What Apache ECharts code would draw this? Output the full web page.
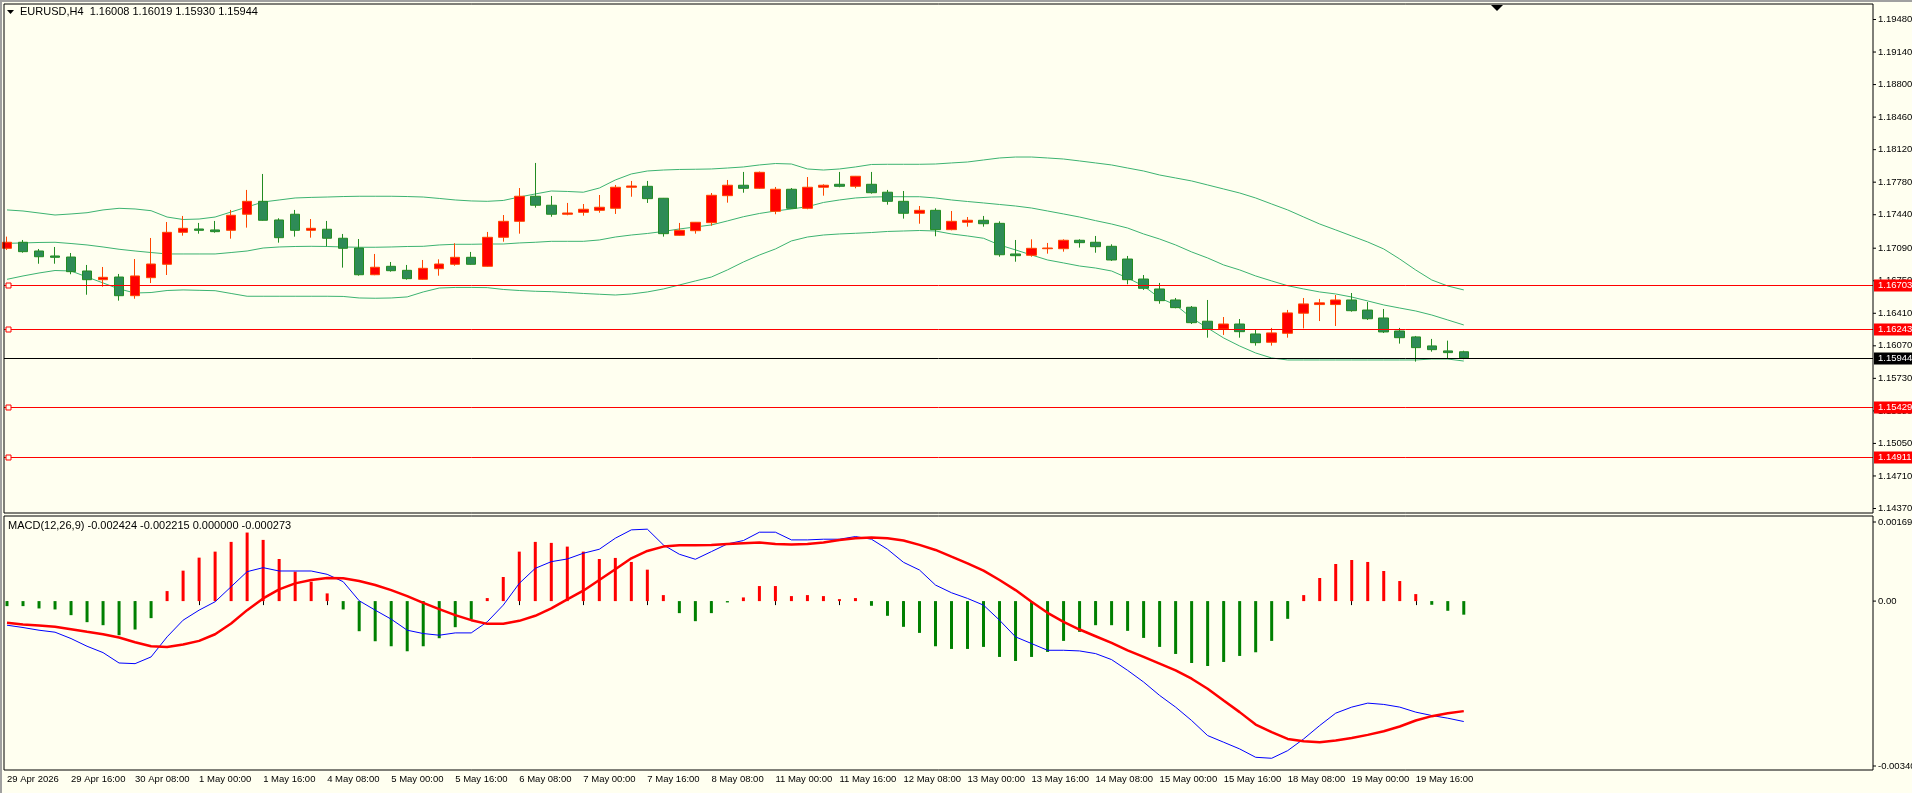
<!DOCTYPE html>
<html><head><meta charset="utf-8">
<script src="https://cdn.jsdelivr.net/npm/echarts@6/dist/echarts.min.js"></script>
<style>html,body{margin:0;padding:0;background:#FFFFF0;}#c{width:1912px;height:793px;}</style>
</head><body><div id="c"></div>
<script>
const tickLabels = ['29 Apr 2026','29 Apr 16:00','30 Apr 08:00','1 May 00:00','1 May 16:00','4 May 08:00','5 May 00:00','5 May 16:00','6 May 08:00','7 May 00:00','7 May 16:00','8 May 08:00','11 May 00:00','11 May 16:00','12 May 08:00','13 May 00:00','13 May 16:00','14 May 08:00','15 May 00:00','15 May 16:00','18 May 08:00','19 May 00:00','19 May 16:00'];
const open = [1.17089,1.17152,1.17061,1.17009,1.16998,1.16852,1.16761,1.16789,1.16594,1.16782,
1.16922,1.17256,1.17291,1.17281,1.17277,1.17445,1.17580,1.17385,1.17445,1.17277,
1.17288,1.17194,1.17092,1.16813,1.16901,1.16859,1.16765,1.16876,1.16922,1.16995,
1.16901,1.17204,1.17371,1.17633,1.17539,1.17445,1.17465,1.17486,1.17507,1.17727,
1.17737,1.17612,1.17225,1.17273,1.17357,1.17639,1.17748,1.17716,1.17476,1.17706,
1.17507,1.17727,1.17758,1.17737,1.17758,1.17675,1.17580,1.17455,1.17486,1.17284,
1.17361,1.17382,1.17350,1.17030,1.17016,1.17085,1.17085,1.17173,1.17152,1.17110,
1.16977,1.16768,1.16664,1.16549,1.16473,1.16327,1.16246,1.16298,1.16194,1.16107,
1.16201,1.16411,1.16501,1.16501,1.16549,1.16444,1.16361,1.16225,1.16163,1.16069,
1.16017,1.16008];
const close = [1.17152,1.17054,1.17001,1.16995,1.16845,1.16761,1.16786,1.16594,1.16800,1.16925,
1.17256,1.17298,1.17277,1.17263,1.17434,1.17580,1.17382,1.17200,1.17277,1.17298,
1.17194,1.17089,1.16813,1.16891,1.16855,1.16772,1.16880,1.16925,1.16995,1.16922,
1.17204,1.17371,1.17633,1.17539,1.17445,1.17458,1.17497,1.17518,1.17727,1.17740,
1.17608,1.17242,1.17277,1.17361,1.17643,1.17748,1.17716,1.17883,1.17706,1.17507,
1.17727,1.17748,1.17737,1.17842,1.17670,1.17580,1.17455,1.17486,1.17284,1.17371,
1.17382,1.17346,1.17022,1.17012,1.17089,1.17092,1.17173,1.17148,1.17106,1.16967,
1.16761,1.16671,1.16542,1.16469,1.16312,1.16246,1.16298,1.16218,1.16103,1.16205,
1.16414,1.16508,1.16519,1.16549,1.16437,1.16353,1.16215,1.16155,1.16051,1.16030,
1.15999,1.15944];
const high = [1.17211,1.17176,1.17082,1.17103,1.17040,1.16915,1.16894,1.16821,1.16977,1.17197,
1.17364,1.17427,1.17354,1.17375,1.17490,1.17699,1.17866,1.17403,1.17490,1.17395,
1.17375,1.17239,1.17186,1.17030,1.16946,1.16915,1.16967,1.16974,1.17142,1.17051,
1.17260,1.17437,1.17719,1.17981,1.17636,1.17563,1.17552,1.17646,1.17751,1.17793,
1.17793,1.17615,1.17354,1.17364,1.17667,1.17803,1.17887,1.17891,1.17730,1.17719,
1.17834,1.17758,1.17887,1.17845,1.17887,1.17699,1.17688,1.17531,1.17507,1.17479,
1.17416,1.17427,1.17371,1.17176,1.17183,1.17145,1.17183,1.17183,1.17218,1.17131,
1.17009,1.16810,1.16727,1.16570,1.16486,1.16549,1.16371,1.16350,1.16236,1.16257,
1.16445,1.16570,1.16560,1.16601,1.16622,1.16528,1.16455,1.16257,1.16173,1.16142,
1.16124,1.16019];
const low = [1.17072,1.17043,1.16928,1.16928,1.16818,1.16604,1.16688,1.16542,1.16562,1.16726,
1.16810,1.17221,1.17242,1.17252,1.17190,1.17305,1.17378,1.17148,1.17211,1.17200,
1.17110,1.16887,1.16803,1.16808,1.16845,1.16761,1.16760,1.16803,1.16907,1.16918,
1.16896,1.17158,1.17242,1.17514,1.17419,1.17434,1.17430,1.17461,1.17448,1.17628,
1.17563,1.17211,1.17221,1.17242,1.17325,1.17566,1.17670,1.17709,1.17445,1.17503,
1.17497,1.17639,1.17727,1.17716,1.17660,1.17545,1.17399,1.17346,1.17215,1.17277,
1.17315,1.17315,1.17001,1.16949,1.17001,1.17033,1.17054,1.17096,1.17043,1.16957,
1.16713,1.16654,1.16510,1.16462,1.16298,1.16155,1.16184,1.16155,1.16072,1.16072,
1.16155,1.16252,1.16329,1.16277,1.16427,1.16340,1.16204,1.16093,1.15905,1.16009,
1.15941,1.15930];
const bbUpper = [1.17490,1.17479,1.17458,1.17437,1.17448,1.17461,1.17490,1.17507,1.17500,1.17482,
1.17416,1.17390,1.17395,1.17416,1.17469,1.17521,1.17573,1.17594,1.17615,1.17621,
1.17625,1.17630,1.17633,1.17633,1.17633,1.17630,1.17625,1.17610,1.17594,1.17584,
1.17580,1.17589,1.17625,1.17657,1.17688,1.17683,1.17675,1.17719,1.17803,1.17866,
1.17897,1.17907,1.17913,1.17915,1.17918,1.17928,1.17939,1.17960,1.17975,1.17970,
1.17918,1.17907,1.17918,1.17939,1.17965,1.17967,1.17967,1.17967,1.17970,1.17981,
1.17991,1.18012,1.18033,1.18043,1.18043,1.18033,1.18022,1.18002,1.17981,1.17960,
1.17928,1.17897,1.17855,1.17824,1.17793,1.17751,1.17709,1.17667,1.17615,1.17552,
1.17490,1.17416,1.17343,1.17281,1.17218,1.17155,1.17082,1.16977,1.16862,1.16758,
1.16695,1.16654];
const bbMiddle = [1.17141,1.17145,1.17150,1.17152,1.17139,1.17124,1.17103,1.17079,1.17061,1.17045,
1.17030,1.17030,1.17030,1.17030,1.17045,1.17061,1.17092,1.17103,1.17108,1.17110,
1.17108,1.17103,1.17100,1.17100,1.17103,1.17108,1.17110,1.17124,1.17131,1.17131,
1.17134,1.17134,1.17145,1.17152,1.17162,1.17162,1.17162,1.17176,1.17207,1.17228,
1.17244,1.17265,1.17291,1.17312,1.17333,1.17375,1.17419,1.17453,1.17479,1.17500,
1.17524,1.17568,1.17594,1.17615,1.17625,1.17628,1.17628,1.17628,1.17615,1.17594,
1.17578,1.17563,1.17547,1.17531,1.17510,1.17479,1.17448,1.17416,1.17378,1.17343,
1.17301,1.17239,1.17186,1.17124,1.17051,1.16988,1.16915,1.16863,1.16800,1.16748,
1.16698,1.16664,1.16633,1.16612,1.16580,1.16539,1.16497,1.16465,1.16434,1.16392,
1.16340,1.16288];
const bbLower = [1.16765,1.16800,1.16831,1.16857,1.16852,1.16789,1.16727,1.16664,1.16622,1.16627,
1.16648,1.16654,1.16650,1.16646,1.16617,1.16588,1.16588,1.16588,1.16588,1.16588,
1.16588,1.16586,1.16570,1.16567,1.16570,1.16581,1.16633,1.16674,1.16680,1.16680,
1.16678,1.16659,1.16648,1.16640,1.16636,1.16627,1.16617,1.16609,1.16601,1.16612,
1.16633,1.16664,1.16706,1.16748,1.16789,1.16863,1.16946,1.17019,1.17082,1.17166,
1.17207,1.17228,1.17239,1.17246,1.17254,1.17265,1.17270,1.17275,1.17270,1.17239,
1.17218,1.17194,1.17124,1.17072,1.17019,1.16967,1.16936,1.16904,1.16883,1.16852,
1.16779,1.16695,1.16570,1.16497,1.16361,1.16256,1.16152,1.16068,1.15995,1.15943,
1.15922,1.15922,1.15922,1.15922,1.15922,1.15922,1.15922,1.15922,1.15922,1.15932,
1.15932,1.15911];
const macdMain = [-485e-6,-532e-6,-586e-6,-626e-6,-754e-6,-909e-6,-1037e-6,-1246e-6,-1259e-6,-1124e-6,
-720e-6,-384e-6,-182e-6,-13e-6,290e-6,593e-6,673e-6,606e-6,606e-6,606e-6,
539e-6,391e-6,7e-6,-182e-6,-364e-6,-586e-6,-653e-6,-687e-6,-640e-6,-640e-6,
-417e-6,-81e-6,357e-6,660e-6,794e-6,848e-6,963e-6,1044e-6,1266e-6,1434e-6,
1448e-6,1131e-6,943e-6,842e-6,996e-6,1151e-6,1219e-6,1387e-6,1387e-6,1232e-6,
1232e-6,1246e-6,1246e-6,1299e-6,1246e-6,1044e-6,781e-6,626e-6,323e-6,168e-6,
54e-6,-81e-6,-384e-6,-720e-6,-855e-6,-990e-6,-990e-6,-1003e-6,-1057e-6,-1178e-6,
-1394e-6,-1629e-6,-1899e-6,-2134e-6,-2404e-6,-2707e-6,-2841e-6,-2976e-6,-3144e-6,-3164e-6,
-3010e-6,-2774e-6,-2505e-6,-2256e-6,-2134e-6,-2054e-6,-2080e-6,-2134e-6,-2235e-6,-2303e-6,
-2357e-6,-2424e-6];
const macdSignal = [-438e-6,-471e-6,-492e-6,-518e-6,-566e-6,-619e-6,-667e-6,-734e-6,-828e-6,-909e-6,
-922e-6,-875e-6,-801e-6,-667e-6,-451e-6,-182e-6,54e-6,236e-6,357e-6,424e-6,
465e-6,458e-6,404e-6,323e-6,222e-6,101e-6,-34e-6,-162e-6,-283e-6,-384e-6,
-458e-6,-458e-6,-397e-6,-296e-6,-148e-6,34e-6,209e-6,424e-6,640e-6,862e-6,
1010e-6,1097e-6,1124e-6,1124e-6,1131e-6,1151e-6,1165e-6,1178e-6,1151e-6,1138e-6,
1151e-6,1178e-6,1232e-6,1266e-6,1279e-6,1266e-6,1219e-6,1131e-6,1030e-6,895e-6,
761e-6,613e-6,424e-6,222e-6,-13e-6,-236e-6,-417e-6,-572e-6,-707e-6,-842e-6,
-990e-6,-1124e-6,-1259e-6,-1394e-6,-1562e-6,-1764e-6,-2000e-6,-2235e-6,-2485e-6,-2639e-6,
-2774e-6,-2821e-6,-2841e-6,-2808e-6,-2754e-6,-2693e-6,-2619e-6,-2525e-6,-2404e-6,-2316e-6,
-2256e-6,-2215e-6];
const macdHist = [-101e-6,-101e-6,-148e-6,-168e-6,-283e-6,-424e-6,-485e-6,-687e-6,-572e-6,-343e-6,
202e-6,613e-6,875e-6,996e-6,1192e-6,1380e-6,1232e-6,848e-6,593e-6,391e-6,
155e-6,-168e-6,-606e-6,-808e-6,-909e-6,-1010e-6,-909e-6,-747e-6,-525e-6,-370e-6,
61e-6,485e-6,996e-6,1192e-6,1172e-6,1097e-6,996e-6,848e-6,869e-6,788e-6,
633e-6,121e-6,-242e-6,-404e-6,-242e-6,-27e-6,74e-6,303e-6,303e-6,101e-6,
121e-6,101e-6,40e-6,61e-6,-94e-6,-296e-6,-518e-6,-640e-6,-909e-6,-963e-6,
-963e-6,-922e-6,-1124e-6,-1205e-6,-1124e-6,-1023e-6,-801e-6,-619e-6,-485e-6,-485e-6,
-599e-6,-741e-6,-922e-6,-1064e-6,-1246e-6,-1306e-6,-1225e-6,-1104e-6,-1030e-6,-801e-6,
-357e-6,121e-6,465e-6,747e-6,828e-6,788e-6,606e-6,404e-6,141e-6,-74e-6,
-195e-6,-273e-6];
const priceTicks = ['1.19480','1.19140','1.18800','1.18460','1.18120','1.17780','1.17440','1.17090','1.16750','1.16410','1.16070','1.15730','1.15390','1.15050','1.14710','1.14370'];
const levelLines = [1.16703, 1.16243, 1.15429, 1.14911];
const currentPrice = 1.15944;
const titleText = 'EURUSD,H4  1.16008 1.16019 1.15930 1.15944';
const macdTitle = 'MACD(12,26,9) -0.002424 -0.002215 0.000000 -0.000273';
const macdAxisLabels = ['0.001693', '0.00', '-0.00340'];

const N = 118;
const cats = [];
for (let i = 0; i < N; i++) cats.push(i < open.length && i % 4 === 0 ? tickLabels[i / 4] : '');
const candles = open.map((o, i) => [o, close[i], low[i], high[i]]);
const FONT = 'Liberation Sans';
const MT = 517, MH = 253;
const chart = echarts.init(document.getElementById('c'));
chart.setOption({
  animation: false,
  backgroundColor: '#FFFFF0',
  grid: [
    {left: 7, right: 32, top: 4, height: 509},
    {left: 7, right: 32, top: MT, height: MH}
  ],
  xAxis: [
    {type: 'category', gridIndex: 0, data: cats, boundaryGap: false, show: false},
    {type: 'category', gridIndex: 1, data: cats, boundaryGap: false,
     axisLine: {show: false},
     axisTick: {show: true, length: 4, interval: (i) => i % 4 === 0 && i < open.length, lineStyle: {color: '#000'}},
     axisLabel: {interval: 0, align: 'left', margin: 4, fontFamily: FONT, fontSize: 9.5, color: '#000',
       formatter: (v) => v, showMinLabel: true, showMaxLabel: false}}
  ],
  yAxis: [
    {type: 'value', gridIndex: 0, min: 1.14323, max: 1.19642, show: false, splitLine: {show: false}},
    {type: 'value', gridIndex: 1, min: -0.0034, max: 0.001693, show: false, splitLine: {show: false}}
  ],
  series: [
    {type: 'line', xAxisIndex: 0, yAxisIndex: 0, data: bbUpper, symbol: 'none', lineStyle: {color: '#3CB371', width: 1}, z: 2},
    {type: 'line', xAxisIndex: 0, yAxisIndex: 0, data: bbMiddle, symbol: 'none', lineStyle: {color: '#3CB371', width: 1}, z: 2},
    {type: 'line', xAxisIndex: 0, yAxisIndex: 0, data: bbLower, symbol: 'none', lineStyle: {color: '#3CB371', width: 1}, z: 2},
    {type: 'candlestick', xAxisIndex: 0, yAxisIndex: 0, data: candles, barWidth: 10, z: 3,
     itemStyle: {color: '#FF0000', color0: '#2E8B57', borderColor: '#FF4500', borderColor0: '#228B22', borderWidth: 1}},
    {type: 'bar', xAxisIndex: 1, yAxisIndex: 1, barWidth: 3, z: 2,
     data: macdHist.map(v => ({value: v, itemStyle: {color: v >= 0 ? '#FF0000' : '#008000'}}))},
    {type: 'line', xAxisIndex: 1, yAxisIndex: 1, data: macdMain, symbol: 'none', lineStyle: {color: '#0000FF', width: 1}, z: 3},
    {type: 'line', xAxisIndex: 1, yAxisIndex: 1, data: macdSignal, symbol: 'none', lineStyle: {color: '#FF0000', width: 2.5}, z: 4}
  ]
});

const AX = 1873, PL = 4;
const g = [];
g.push({type: 'rect', shape: {x: PL, y: 4, width: AX - PL, height: 509}, style: {fill: 'none', stroke: '#000', lineWidth: 1}, z: 50});
g.push({type: 'rect', shape: {x: PL, y: 516, width: AX - PL, height: 254}, style: {fill: 'none', stroke: '#000', lineWidth: 1}, z: 50});
g.push({type: 'rect', shape: {x: 0, y: 0, width: 2, height: 793}, style: {fill: '#A0A0A0'}, z: 50});
g.push({type: 'line', shape: {x1: 0, y1: 1, x2: 1912, y2: 1}, style: {stroke: '#A0A0A0', lineWidth: 2}, z: 50});
priceTicks.forEach(t => {
  const y = chart.convertToPixel({yAxisIndex: 0}, parseFloat(t));
  g.push({type: 'line', shape: {x1: AX, y1: y, x2: AX + 3, y2: y}, style: {stroke: '#000'}, z: 50});
  g.push({type: 'text', x: AX + 5, y: y, style: {text: t, fontFamily: FONT, fontSize: 9.5, fill: '#000', verticalAlign: 'middle'}, z: 50});
});
levelLines.forEach(p => {
  const y = Math.round(chart.convertToPixel({yAxisIndex: 0}, p)) + 0.5;
  g.push({type: 'line', shape: {x1: PL, y1: y, x2: AX, y2: y}, style: {stroke: '#FF0000', lineWidth: 1}, z: 40});
  g.push({type: 'rect', shape: {x: PL + 2, y: y - 2.5, width: 5, height: 5}, style: {fill: '#FFFFF0', stroke: '#FF0000', lineWidth: 1}, z: 41});
  g.push({type: 'rect', shape: {x: AX + 1, y: y - 6, width: 39, height: 12}, style: {fill: '#FF0000'}, z: 60});
  g.push({type: 'text', x: AX + 5, y: y, style: {text: p.toFixed(5), fontFamily: FONT, fontSize: 9.5, fill: '#fff', verticalAlign: 'middle'}, z: 61});
});
{
  const y = Math.round(chart.convertToPixel({yAxisIndex: 0}, currentPrice)) + 0.5;
  g.push({type: 'line', shape: {x1: PL, y1: y, x2: AX, y2: y}, style: {stroke: '#000', lineWidth: 1}, z: 40});
  g.push({type: 'rect', shape: {x: AX + 1, y: y - 6, width: 39, height: 12}, style: {fill: '#000'}, z: 60});
  g.push({type: 'text', x: AX + 5, y: y, style: {text: currentPrice.toFixed(5), fontFamily: FONT, fontSize: 9.5, fill: '#fff', verticalAlign: 'middle'}, z: 61});
}
const yZero = chart.convertToPixel({yAxisIndex: 1}, 0);
[[MT + 5, macdAxisLabels[0]], [yZero, macdAxisLabels[1]], [MT + MH - 4, macdAxisLabels[2]]].forEach(([y, t]) => {
  g.push({type: 'line', shape: {x1: AX, y1: y, x2: AX + 3, y2: y}, style: {stroke: '#000'}, z: 50});
  g.push({type: 'text', x: AX + 5, y: y, style: {text: t, fontFamily: FONT, fontSize: 9.5, fill: '#000', verticalAlign: 'middle'}, z: 50});
});
g.push({type: 'polygon', shape: {points: [[7, 10], [14, 10], [10.5, 14]]}, style: {fill: '#000'}, z: 50});
g.push({type: 'text', x: 20, y: 12, style: {text: titleText, fontFamily: FONT, fontSize: 11, fill: '#000', verticalAlign: 'middle'}, z: 50});
g.push({type: 'text', x: 8, y: 526, style: {text: macdTitle, fontFamily: FONT, fontSize: 11, fill: '#000', verticalAlign: 'middle'}, z: 50});
g.push({type: 'polygon', shape: {points: [[1491, 5], [1503, 5], [1497, 11]]}, style: {fill: '#000'}, z: 50});
chart.setOption({graphic: g});
</script></body></html>
